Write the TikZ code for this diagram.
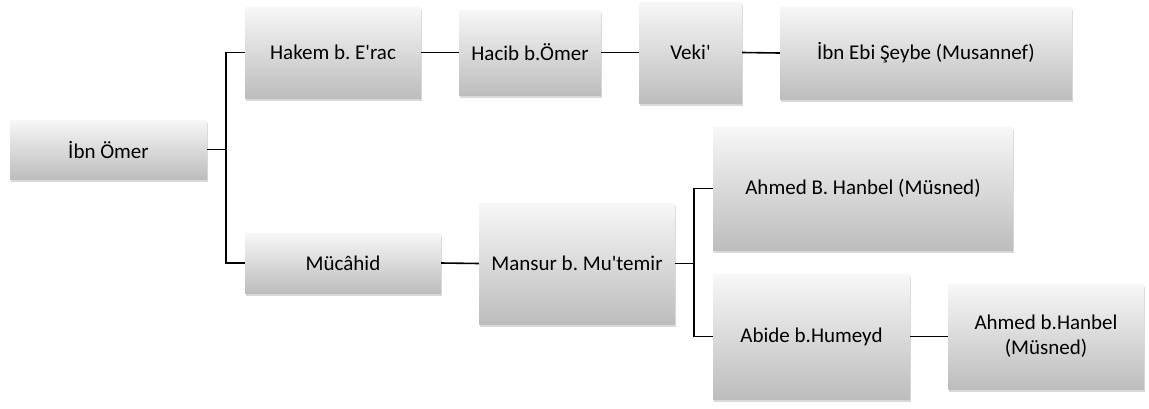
\documentclass[tikz,border=0pt]{standalone}
\usepackage{fontspec}
\setmainfont{Carlito}[Ligatures=TeXOff]
\frenchspacing
\usetikzlibrary{shadows}
\definecolor{boxtop}{HTML}{F7F7F7}
\definecolor{boxbot}{HTML}{BDBDBD}
\tikzset{
  gbox/.style={rectangle, inner sep=0pt, align=center, font=\fontsize{21}{25}\selectfont,
    top color=boxtop, bottom color=boxbot, draw=none,
    drop shadow={shadow xshift=0.8pt, shadow yshift=-2.5pt, opacity=0.3, fill=black!50}},
  link/.style={draw=black, line width=1.6pt}
}
\newcommand{\gnode}[6]{%
  \node[gbox, minimum width={#4-#3}, minimum height={#6-#5}] (#1) at ({(#3+#4)/2},{-(#5+#6)/2}) {#2};}
\begin{document}
\begin{tikzpicture}[x=1pt,y=1pt]
\useasboundingbox (0,0) rectangle (1149,-408);
\gnode{ibn}{İbn Ömer}{10}{207}{120}{179}
\gnode{hakem}{Hakem b. E'rac}{245}{421}{7}{98}
\gnode{hacib}{Hacib b.Ömer}{459}{601}{10}{95}
\gnode{veki}{Veki'}{639}{742}{2}{103}
\gnode{ebi}{İbn Ebi Şeybe (Musannef)}{780}{1072}{7}{99}
\gnode{mucahid}{Mücâhid}{245}{441}{233}{293}
\gnode{mansur}{Mansur b. Mu'temir}{479}{675}{203}{324}
\gnode{ahmedA}{Ahmed B. Hanbel (Müsned)}{713}{1013}{127}{250}
\gnode{abide}{Abide b.Humeyd}{713}{910}{274}{399}
\gnode{ahmedB}{Ahmed b.Hanbel\\(Müsned)}{948}{1144}{284}{389}
\coordinate (j1) at (226,-149.5);
\coordinate (j2) at (694,-263.5);
\draw[link] (ibn.east) -- (j1);
\draw[link] (hakem.west) -| (j1) |- (mucahid.west);
\draw[link] (hakem.east) -- (hacib.west);
\draw[link] (hacib.east) -- (veki.west);
\draw[link] (veki.east) -- (ebi.west);
\draw[link] (mucahid.east) -- (mansur.west);
\draw[link] (mansur.east) -- (j2);
\draw[link] (ahmedA.west) -| (j2) |- (abide.west);
\draw[link] (abide.east) -- (ahmedB.west);
\end{tikzpicture}
\end{document}
